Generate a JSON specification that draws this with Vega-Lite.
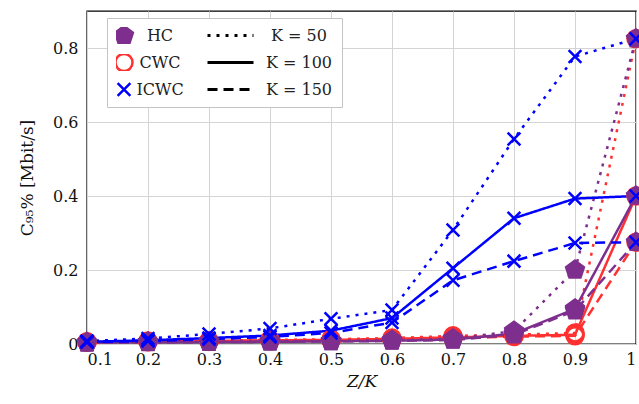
{
  "$schema": "https://vega.github.io/schema/vega-lite/v6.json",
  "width": 549,
  "height": 333,
  "autosize": {"type": "none"},
  "padding": {"left": 87, "top": 11, "right": 3, "bottom": 60},
  "background": "white",
  "config": {
    "font": "DejaVu Serif",
    "view": {"stroke": "#000000", "strokeWidth": 1.4},
    "axis": {
      "grid": true, "gridColor": "#d4d4d4", "gridWidth": 1,
      "domain": false, "ticks": false,
      "labelFont": "DejaVu Serif", "labelFontSize": 16, "labelColor": "#111111",
      "titleFont": "DejaVu Serif", "titleFontSize": 17, "titleFontWeight": "normal", "titleColor": "#111111"
    },
    "legend": {"labelFont": "DejaVu Serif", "labelFontSize": 16, "labelColor": "#222222"}
  },
  "data": {"values": [
    {"method":"CWC","K":"K = 50","z":0.1,"c":0.006},{"method":"CWC","K":"K = 50","z":0.2,"c":0.008},{"method":"CWC","K":"K = 50","z":0.3,"c":0.009},{"method":"CWC","K":"K = 50","z":0.4,"c":0.011},{"method":"CWC","K":"K = 50","z":0.5,"c":0.013},{"method":"CWC","K":"K = 50","z":0.6,"c":0.016},{"method":"CWC","K":"K = 50","z":0.7,"c":0.022},{"method":"CWC","K":"K = 50","z":0.8,"c":0.025},{"method":"CWC","K":"K = 50","z":0.9,"c":0.03},{"method":"CWC","K":"K = 50","z":1.0,"c":0.825},
    {"method":"CWC","K":"K = 100","z":0.1,"c":0.005},{"method":"CWC","K":"K = 100","z":0.2,"c":0.007},{"method":"CWC","K":"K = 100","z":0.3,"c":0.008},{"method":"CWC","K":"K = 100","z":0.4,"c":0.01},{"method":"CWC","K":"K = 100","z":0.5,"c":0.011},{"method":"CWC","K":"K = 100","z":0.6,"c":0.014},{"method":"CWC","K":"K = 100","z":0.7,"c":0.018},{"method":"CWC","K":"K = 100","z":0.8,"c":0.022},{"method":"CWC","K":"K = 100","z":0.9,"c":0.025},{"method":"CWC","K":"K = 100","z":1.0,"c":0.4},
    {"method":"CWC","K":"K = 150","z":0.1,"c":0.005},{"method":"CWC","K":"K = 150","z":0.2,"c":0.006},{"method":"CWC","K":"K = 150","z":0.3,"c":0.007},{"method":"CWC","K":"K = 150","z":0.4,"c":0.009},{"method":"CWC","K":"K = 150","z":0.5,"c":0.01},{"method":"CWC","K":"K = 150","z":0.6,"c":0.012},{"method":"CWC","K":"K = 150","z":0.7,"c":0.016},{"method":"CWC","K":"K = 150","z":0.8,"c":0.02},{"method":"CWC","K":"K = 150","z":0.9,"c":0.022},{"method":"CWC","K":"K = 150","z":1.0,"c":0.275},
    {"method":"HC","K":"K = 50","z":0.1,"c":0.004},{"method":"HC","K":"K = 50","z":0.2,"c":0.005},{"method":"HC","K":"K = 50","z":0.3,"c":0.006},{"method":"HC","K":"K = 50","z":0.4,"c":0.007},{"method":"HC","K":"K = 50","z":0.5,"c":0.008},{"method":"HC","K":"K = 50","z":0.6,"c":0.01},{"method":"HC","K":"K = 50","z":0.7,"c":0.014},{"method":"HC","K":"K = 50","z":0.8,"c":0.035},{"method":"HC","K":"K = 50","z":0.9,"c":0.2},{"method":"HC","K":"K = 50","z":1.0,"c":0.825},
    {"method":"HC","K":"K = 100","z":0.1,"c":0.004},{"method":"HC","K":"K = 100","z":0.2,"c":0.005},{"method":"HC","K":"K = 100","z":0.3,"c":0.005},{"method":"HC","K":"K = 100","z":0.4,"c":0.006},{"method":"HC","K":"K = 100","z":0.5,"c":0.007},{"method":"HC","K":"K = 100","z":0.6,"c":0.009},{"method":"HC","K":"K = 100","z":0.7,"c":0.012},{"method":"HC","K":"K = 100","z":0.8,"c":0.028},{"method":"HC","K":"K = 100","z":0.9,"c":0.095},{"method":"HC","K":"K = 100","z":1.0,"c":0.4},
    {"method":"HC","K":"K = 150","z":0.1,"c":0.003},{"method":"HC","K":"K = 150","z":0.2,"c":0.004},{"method":"HC","K":"K = 150","z":0.3,"c":0.005},{"method":"HC","K":"K = 150","z":0.4,"c":0.006},{"method":"HC","K":"K = 150","z":0.5,"c":0.007},{"method":"HC","K":"K = 150","z":0.6,"c":0.008},{"method":"HC","K":"K = 150","z":0.7,"c":0.011},{"method":"HC","K":"K = 150","z":0.8,"c":0.025},{"method":"HC","K":"K = 150","z":0.9,"c":0.09},{"method":"HC","K":"K = 150","z":1.0,"c":0.275},
    {"method":"ICWC","K":"K = 50","z":0.1,"c":0.008},{"method":"ICWC","K":"K = 50","z":0.2,"c":0.015},{"method":"ICWC","K":"K = 50","z":0.3,"c":0.027},{"method":"ICWC","K":"K = 50","z":0.4,"c":0.042},{"method":"ICWC","K":"K = 50","z":0.5,"c":0.068},{"method":"ICWC","K":"K = 50","z":0.6,"c":0.092},{"method":"ICWC","K":"K = 50","z":0.7,"c":0.308},{"method":"ICWC","K":"K = 50","z":0.8,"c":0.554},{"method":"ICWC","K":"K = 50","z":0.9,"c":0.777},{"method":"ICWC","K":"K = 50","z":1.0,"c":0.825},
    {"method":"ICWC","K":"K = 100","z":0.1,"c":0.006},{"method":"ICWC","K":"K = 100","z":0.2,"c":0.01},{"method":"ICWC","K":"K = 100","z":0.3,"c":0.016},{"method":"ICWC","K":"K = 100","z":0.4,"c":0.023},{"method":"ICWC","K":"K = 100","z":0.5,"c":0.036},{"method":"ICWC","K":"K = 100","z":0.6,"c":0.07},{"method":"ICWC","K":"K = 100","z":0.7,"c":0.205},{"method":"ICWC","K":"K = 100","z":0.8,"c":0.34},{"method":"ICWC","K":"K = 100","z":0.9,"c":0.393},{"method":"ICWC","K":"K = 100","z":1.0,"c":0.4},
    {"method":"ICWC","K":"K = 150","z":0.1,"c":0.005},{"method":"ICWC","K":"K = 150","z":0.2,"c":0.008},{"method":"ICWC","K":"K = 150","z":0.3,"c":0.013},{"method":"ICWC","K":"K = 150","z":0.4,"c":0.019},{"method":"ICWC","K":"K = 150","z":0.5,"c":0.03},{"method":"ICWC","K":"K = 150","z":0.6,"c":0.058},{"method":"ICWC","K":"K = 150","z":0.7,"c":0.172},{"method":"ICWC","K":"K = 150","z":0.8,"c":0.224},{"method":"ICWC","K":"K = 150","z":0.9,"c":0.273},{"method":"ICWC","K":"K = 150","z":1.0,"c":0.275}
  ]},
  "encoding": {
    "x": {"field": "z", "type": "quantitative",
      "scale": {"domain": [0.1, 1.0], "nice": false, "zero": false},
      "axis": {"values": [0.1,0.2,0.3,0.4,0.5,0.6,0.7,0.8,0.9,1.0], "format": "~g", "labelPadding": 7, "title": "Z/K", "titleFontStyle": "italic", "titlePadding": 6}},
    "y": {"field": "c", "type": "quantitative",
      "scale": {"domain": [0, 0.9], "nice": false},
      "axis": {"values": [0, 0.2, 0.4, 0.6, 0.8], "format": "~g", "labelPadding": 9, "title": "C₉₅% [Mbit/s]", "titlePadding": 16}}
  },
  "layer": [
    {
      "mark": {"type": "line", "strokeWidth": 2.5, "strokeCap": "butt"},
      "encoding": {
        "stroke": {"field": "method", "type": "nominal",
          "scale": {"domain": ["HC", "CWC", "ICWC"], "range": ["#7E2F8E", "#FF3030", "#0000FF"]}},
        "strokeDash": {"field": "K", "type": "nominal",
          "scale": {"domain": ["K = 50", "K = 100", "K = 150"], "range": [[3, 6], [1, 0], [10, 6]]},
          "legend": {"title": null, "orient": "none", "legendX": 20, "legendY": 7, "padding": 9,
            "clipHeight": 17, "rowPadding": 10, "symbolType": "stroke", "symbolSize": 2116,
            "symbolStrokeColor": "#000000", "symbolStrokeWidth": 2.8, "symbolOffset": 90,
            "labelOffset": 44, "labelAlign": "center", "labelLimit": 300,
            "fillColor": "white", "strokeColor": "#c4c4c4", "zindex": 1}}
      }
    },
    {
      "mark": {"type": "point", "filled": false, "size": 289, "strokeWidth": 2.5, "opacity": 1},
      "encoding": {
        "stroke": {"field": "method", "type": "nominal",
          "legend": {"title": null, "orient": "none", "legendX": 20, "legendY": 7, "padding": 9,
            "clipHeight": 17, "rowPadding": 10, "symbolSize": 289, "symbolStrokeWidth": 2.5,
            "symbolOffset": -2, "labelOffset": 26, "labelAlign": "center", "labelLimit": 300,
            "zindex": 2}},
        "fill": {"field": "method", "type": "nominal",
          "scale": {"domain": ["HC", "CWC", "ICWC"], "range": ["#7E2F8E", "transparent", "transparent"]}},
        "shape": {"field": "method", "type": "nominal",
          "scale": {"domain": ["HC", "CWC", "ICWC"], "range": [
            "M0,-1.1L1.046,-0.34L0.647,0.89L-0.647,0.89L-1.046,-0.34Z",
            "circle",
            "M-0.75,-0.75L0.75,0.75M-0.75,0.75L0.75,-0.75"]}}
      }
    }
  ]
}
